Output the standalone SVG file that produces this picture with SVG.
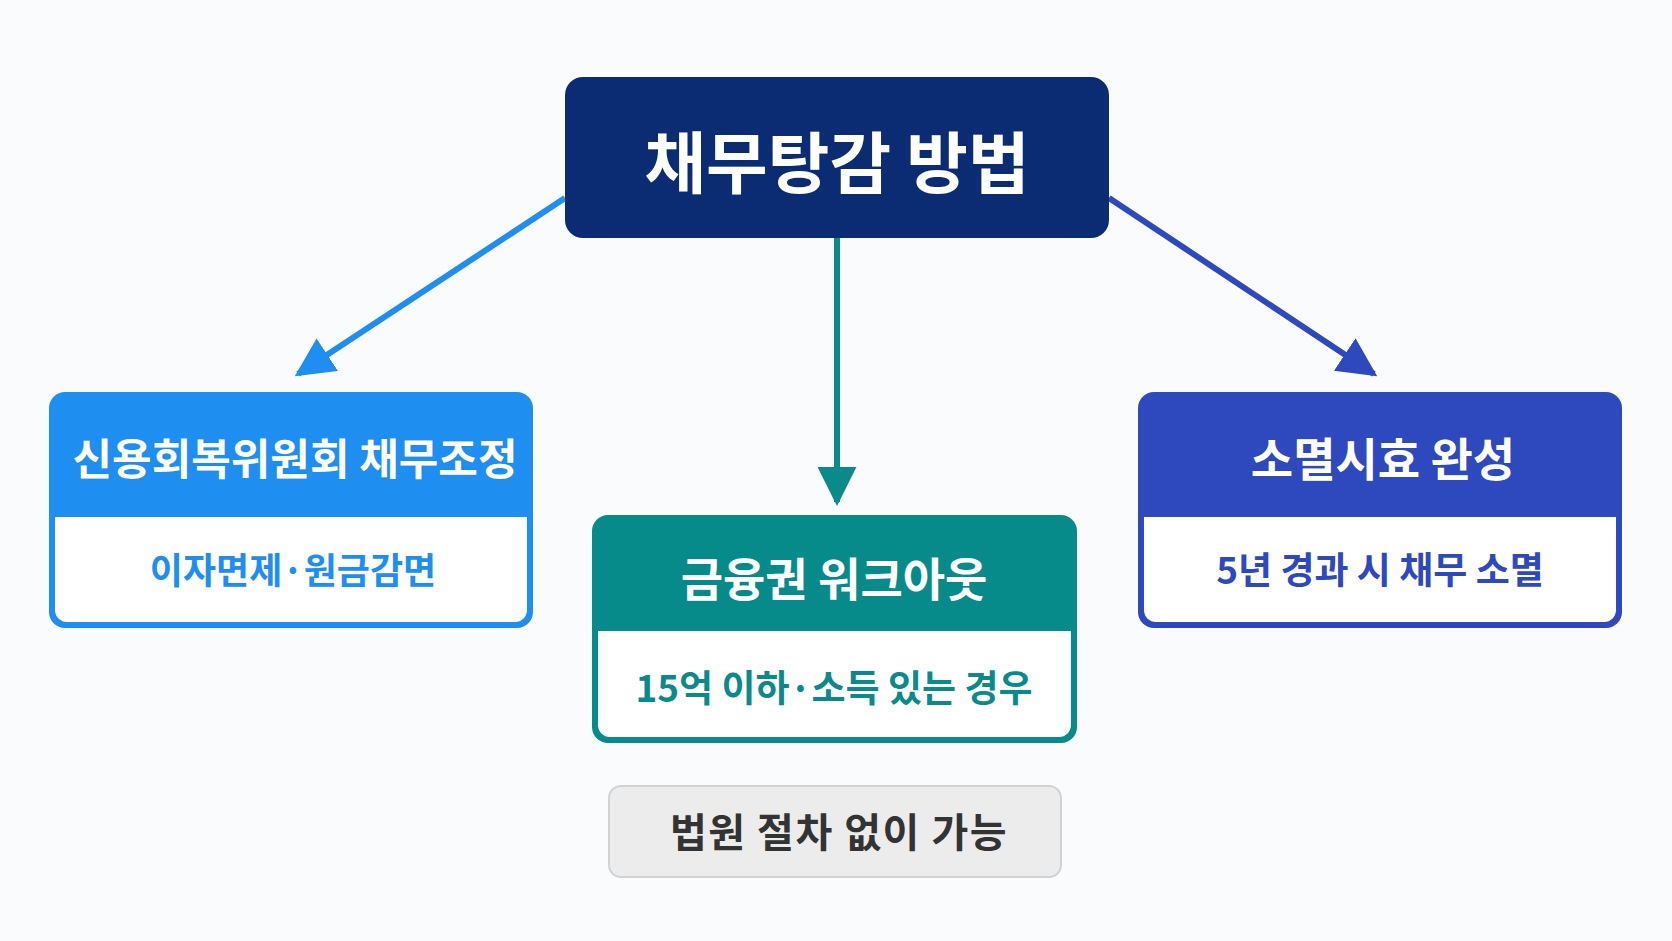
<svg xmlns="http://www.w3.org/2000/svg" width="1672" height="941" viewBox="0 0 1672 941">
<defs>
<style>
text{font-family:"Noto Sans CJK KR","Noto Sans",sans-serif;font-weight:700;text-anchor:middle;dominant-baseline:central}
.title{fill:#ffffff;font-size:46px}
.sub{font-size:36px}
.edge{fill:none;stroke-width:6}
</style>
<marker id="mBlue" viewBox="0 0 10 10" refX="9" refY="5" markerWidth="6.5" markerHeight="6.5" markerUnits="strokeWidth" orient="auto"><path d="M0,0 L10,5 L0,10 z" fill="#1e8ef0"/></marker>
<marker id="mTeal" viewBox="0 0 10 10" refX="9" refY="5" markerWidth="6.5" markerHeight="6.5" markerUnits="strokeWidth" orient="auto"><path d="M0,0 L10,5 L0,10 z" fill="#0a8a8a"/></marker>
<marker id="mRoyal" viewBox="0 0 10 10" refX="9" refY="5" markerWidth="6.5" markerHeight="6.5" markerUnits="strokeWidth" orient="auto"><path d="M0,0 L10,5 L0,10 z" fill="#2e48be"/></marker>
</defs>
<rect width="1672" height="941" fill="#fafbfd"/>
<g id="connectors">
<line class="edge" x1="565" y1="198" x2="298" y2="374" stroke="#1e8ef0" marker-end="url(#mBlue)"/>
<line class="edge" x1="837" y1="238" x2="837" y2="502" stroke="#0a8a8a" marker-end="url(#mTeal)"/>
<line class="edge" x1="1109" y1="198" x2="1374" y2="374" stroke="#2e48be" marker-end="url(#mRoyal)"/>
</g>
<g id="root">
<rect x="565" y="77" width="544" height="161" rx="18" fill="#0b2b72"/>
<text x="837" y="158" fill="#ffffff" style="font-size:67px">채무탕감 방법</text>
</g>
<g id="credit">
<rect x="49" y="392" width="484" height="236" rx="16" fill="#1e8ef0"/>
<path d="M55,517 H527 V610 A12,12 0 0 1 515,622 H67 A12,12 0 0 1 55,610 Z" fill="#ffffff"/>
<text class="title" x="295" y="456" style="font-size:43px">신용회복위원회 채무조정</text>
<text class="sub" x="293" y="568" fill="#1e8ef0">이자면제·원금감면</text>
</g>
<g id="workout">
<rect x="592" y="515" width="485" height="228" rx="16" fill="#078a8a"/>
<path d="M598,631 H1071 V725 A12,12 0 0 1 1059,737 H610 A12,12 0 0 1 598,725 Z" fill="#ffffff"/>
<text class="title" x="834" y="576">금융권 워크아웃</text>
<text class="sub" x="834" y="686" fill="#0a8a8a" style="font-size:37px">15억 이하·소득 있는 경우</text>
</g>
<g id="prescription">
<rect x="1138" y="392" width="484" height="236" rx="16" fill="#2e48be"/>
<path d="M1144,517 H1616 V610 A12,12 0 0 1 1604,622 H1156 A12,12 0 0 1 1144,610 Z" fill="#ffffff"/>
<text class="title" x="1383" y="456">소멸시효 완성</text>
<text class="sub" x="1380" y="568" fill="#2e48be" style="font-size:37px">5년 경과 시 채무 소멸</text>
</g>
<g id="note">
<rect x="609" y="786" width="452" height="91" rx="12" fill="#ececec" stroke="#d2d2d2" stroke-width="2"/>
<text x="839" y="830" fill="#333333" style="font-size:40px;letter-spacing:1.5px">법원 절차 없이 가능</text>
</g>
</svg>
